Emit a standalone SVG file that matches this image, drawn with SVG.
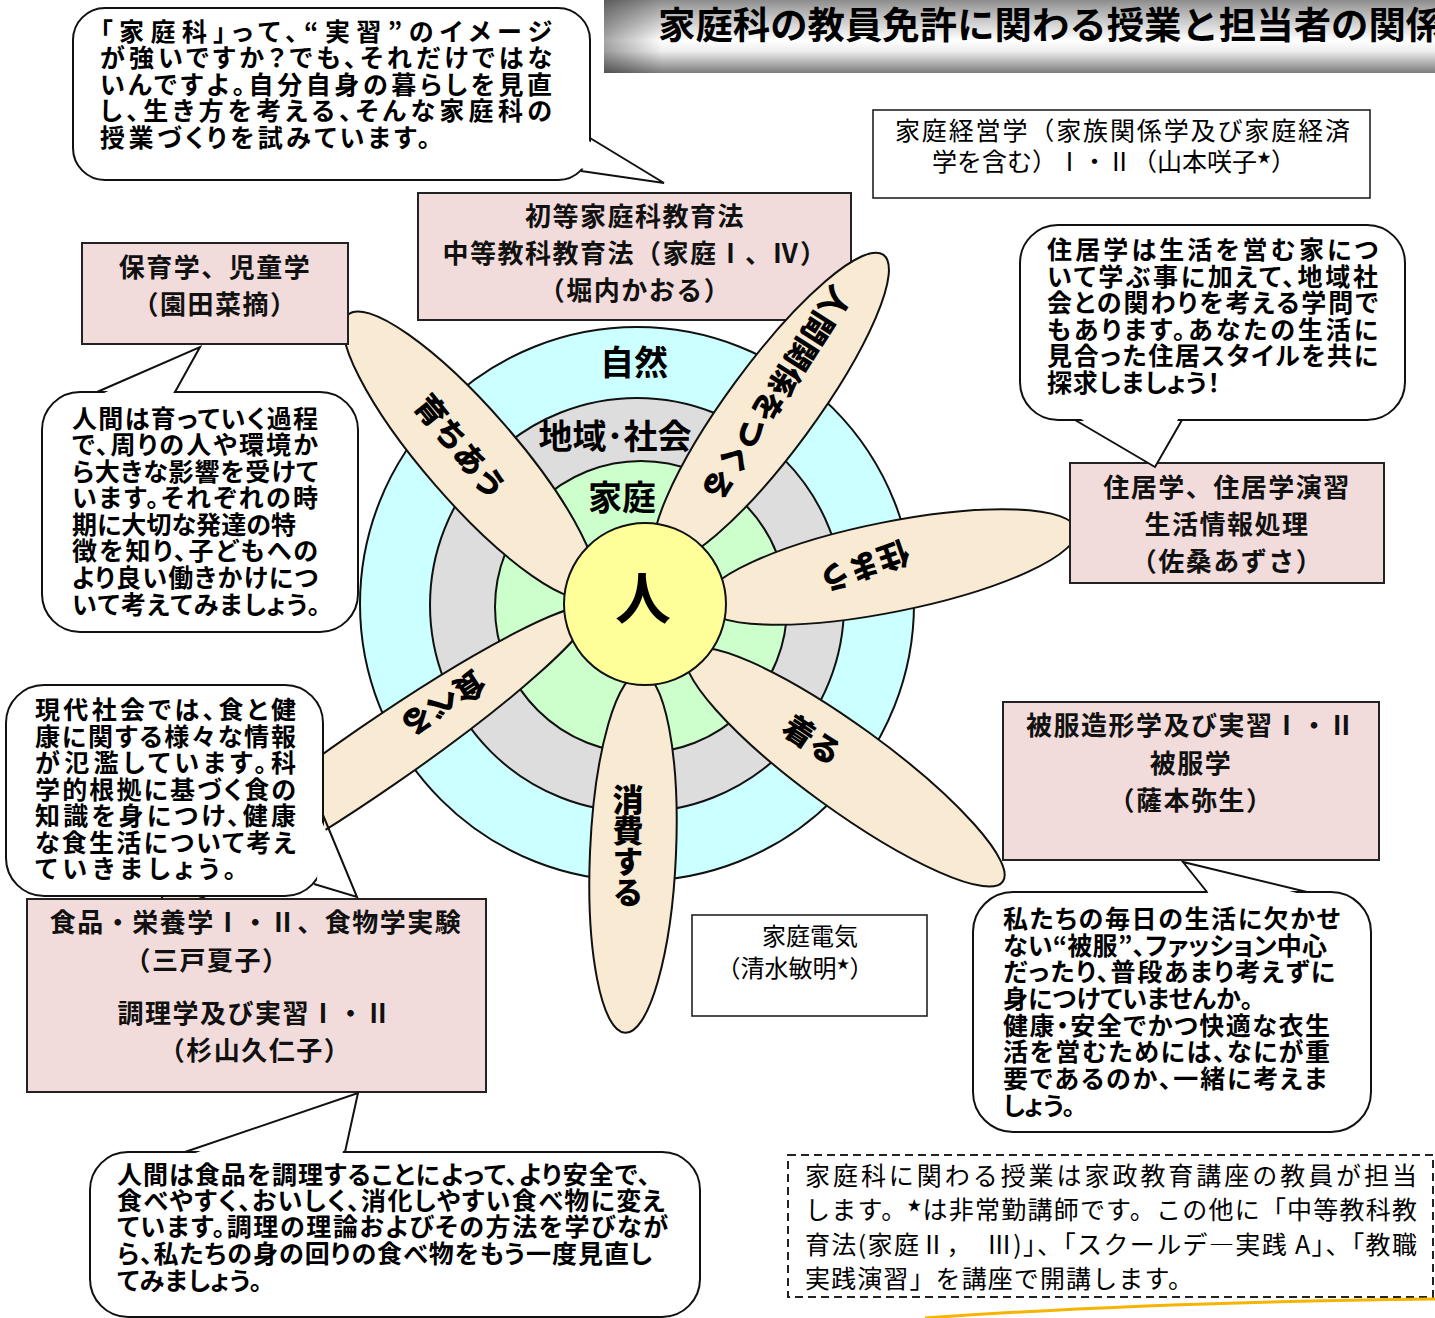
<svg xmlns="http://www.w3.org/2000/svg" width="1435" height="1318" viewBox="0 0 1435 1318">
<defs>
<linearGradient id="tg" x1="0" y1="0" x2="0" y2="1">
<stop offset="0" stop-color="#8c8c8c"/>
<stop offset="0.12" stop-color="#a9a9a9"/>
<stop offset="0.55" stop-color="#ffffff"/>
<stop offset="0.7" stop-color="#eeeeee"/>
<stop offset="1" stop-color="#7c7c7c"/>
</linearGradient>
<linearGradient id="tgl" x1="0" y1="0" x2="1" y2="0">
<stop offset="0" stop-color="#000" stop-opacity="0.35"/>
<stop offset="0.07" stop-color="#000" stop-opacity="0"/>
</linearGradient>
<style>
.f{font-family:"Noto Sans CJK JP","Noto Sans",sans-serif;}
.bold{font-weight:700;}
.reg{font-weight:400;}
.bt{font-family:"Noto Sans CJK JP","Noto Sans",sans-serif;font-weight:700;font-size:25px;font-feature-settings:"palt";fill:#000;}
.bx{font-family:"Noto Sans CJK JP","Noto Sans",sans-serif;font-weight:700;font-size:26px;letter-spacing:1.5px;text-anchor:middle;fill:#111;}
.pl{font-family:"Noto Sans CJK JP","Noto Sans",sans-serif;font-weight:900;font-size:31px;text-anchor:middle;fill:#000;}
.vt{writing-mode:vertical-rl;}
.ring{stroke:#111;stroke-width:2;}
.petal{fill:#F9EAD4;stroke:#111;stroke-width:2;}
.box{fill:#F2DCDB;stroke:#222;stroke-width:2;}
.wbox{fill:#fff;stroke:#222;stroke-width:1.6;}
.bub{fill:#fff;stroke:#111;stroke-width:2;}
.tailf{fill:#fff;stroke:none;}
.tail{fill:none;stroke:#111;stroke-width:2;stroke-linejoin:miter;}
</style>
</defs>
<rect width="1435" height="1318" fill="#fff"/>

<g id="title">
<rect x="604" y="0" width="831" height="73" fill="url(#tg)"/>
<rect x="604" y="0" width="831" height="73" fill="url(#tgl)"/>
<text x="658" y="39" class="f bold" font-size="37.4" fill="#000">家庭科の教員免許に関わる授業と担当者の関係</text>
</g>

<g id="box-shoto">
<rect x="418" y="193" width="433" height="127" class="box"/>
<text class="bx" x="635" y="226">初等家庭科教育法</text>
<text class="bx" x="635" y="263">中等教科教育法（家庭Ⅰ、Ⅳ）</text>
<text class="bx" x="635" y="300">（堀内かおる）</text>
</g>

<g id="rings">
<circle cx="637" cy="604" r="277" fill="#CCFFFF" class="ring"/>
<circle cx="637" cy="605" r="207" fill="#DDDDDD" class="ring"/>
<circle cx="641" cy="607" r="146" fill="#CCFFCC" class="ring"/>
<text x="634" y="375" class="f bold" font-size="34" text-anchor="middle">自然</text>
<text x="615" y="449" class="f bold" font-size="34" text-anchor="middle">地域･社会</text>
<text x="622" y="510" class="f bold" font-size="34" text-anchor="middle">家庭</text>
</g>

<g id="petals">
<g id="petal-sodachiau">
<ellipse cx="470" cy="455" rx="186" ry="46" transform="rotate(49 470 455)" class="petal"/>
<text class="pl" transform="translate(460 447) rotate(51)" y="11">育ちあう</text>
</g>
<g id="petal-ningenkankei">
<ellipse cx="771" cy="408" rx="190" ry="44" transform="rotate(-53.7 771 408)" class="petal"/>
<text class="pl" font-size="32" transform="translate(776 393) rotate(122.5)" y="11">人間関係をつくる</text>
</g>
<g id="petal-sumau">
<ellipse cx="890" cy="567" rx="190" ry="45" transform="rotate(-11.3 890 567)" class="petal"/>
<text class="pl" transform="translate(864 566) rotate(160.5)" y="11">住まう</text>
</g>
<g id="petal-kiru">
<ellipse cx="845" cy="767" rx="195" ry="42" transform="rotate(36 845 767)" class="petal"/>
<text class="pl" transform="translate(812 740) rotate(33.7)" y="11">着る</text>
</g>
<g id="petal-shohi">
<ellipse cx="633" cy="853" rx="43" ry="180" transform="rotate(2.5 633 853)" class="petal"/>
<text class="pl vt" x="628" y="846">消費する</text>
</g>
<g id="petal-taberu">
<ellipse cx="376" cy="757" rx="260" ry="33" transform="rotate(-34.6 376 757)" class="petal"/>
<text class="pl" transform="translate(443 703) rotate(147)" y="11">食べる</text>
</g>
</g>

<g id="center-hito">
<circle cx="645" cy="604" r="81" fill="#FFFF99" class="ring"/>
<text x="643" y="619" class="f bold" font-size="56" text-anchor="middle">人</text>
</g>

<g id="box-hoiku">
<rect x="82" y="243" width="266" height="101" class="box"/>
<text class="bx" x="215" y="277">保育学、児童学</text>
<text class="bx" x="215" y="314">（園田菜摘）</text>
</g>

<g id="box-jukyo">
<rect x="1070" y="463" width="314" height="120" class="box"/>
<text class="bx" x="1227" y="497">住居学、住居学演習</text>
<text class="bx" x="1227" y="534">生活情報処理</text>
<text class="bx" x="1227" y="571">（佐桑あずさ）</text>
</g>

<g id="box-hifuku">
<rect x="1003" y="702" width="376" height="158" class="box"/>
<text class="bx" x="1191" y="735">被服造形学及び実習Ⅰ・Ⅱ</text>
<text class="bx" x="1191" y="773">被服学</text>
<text class="bx" x="1191" y="810">（薩本弥生）</text>
</g>

<g id="box-shokuhin">
<rect x="27" y="899" width="459" height="193" class="box"/>
<text class="bx" x="256" y="932">食品・栄養学Ⅰ・Ⅱ、食物学実験</text>
<text class="bx" x="207" y="970">（三戸夏子）</text>
<text class="bx" x="255" y="1023">調理学及び実習Ⅰ・Ⅱ</text>
<text class="bx" x="255" y="1060">（杉山久仁子）</text>
</g>

<g id="box-keiei">
<rect x="873" y="110" width="497" height="88" class="wbox"/>
<text class="f reg" font-size="25" x="895" y="140" textLength="455">家庭経営学（家族関係学及び家庭経済</text>
<text class="f reg" font-size="25" x="1114" y="171" text-anchor="middle">学を含む）Ⅰ・Ⅱ（山本咲子<tspan font-size="14" dy="-9">★</tspan><tspan dy="9">）</tspan></text>
</g>

<g id="box-denki">
<rect x="692" y="915" width="235" height="101" class="wbox"/>
<text class="f reg" font-size="24" x="810" y="945" text-anchor="middle">家庭電気</text>
<text class="f reg" font-size="24" x="795" y="977" text-anchor="middle">（清水敏明<tspan font-size="13" dy="-9">★</tspan><tspan dy="9">）</tspan></text>
</g>

<g id="note">
<rect x="788" y="1155" width="645" height="142" fill="#fff" stroke="#222" stroke-width="2" stroke-dasharray="8 5"/>
<text class="f reg" font-size="25" x="805" y="1185" textLength="612">家庭科に関わる授業は家政教育講座の教員が担当</text>
<text class="f reg" font-size="25" x="805" y="1219" textLength="612">します。<tspan font-size="14" dy="-9">★</tspan><tspan dy="9">は非常勤講師です。この他に「中等教科教</tspan></text>
<text class="f reg" font-size="25" x="805" y="1254" textLength="612">育法(家庭Ⅱ，　Ⅲ)」、「スクールデ―実践 A」、「教職</text>
<text class="f reg" font-size="25" x="805" y="1288" textLength="388">実践演習」を講座で開講します。</text>
</g>

<g id="deco">
<path d="M 925 1318 Q 1150 1302 1435 1299" fill="none" stroke="#F5B400" stroke-width="3"/>
</g>

<g id="bubble-top">
<rect x="73" y="8" width="517" height="172" rx="32" class="bub"/>
<polygon points="587,140 664,183 579,168" class="tailf"/>
<polyline points="590,138 664,183 581,171" class="tail"/>
<text class="bt" x="100" y="41" textLength="452">「家庭科」って、“実習”のイメージ</text>
<text class="bt" x="100" y="67" textLength="452">が強いですか？でも、それだけではな</text>
<text class="bt" x="100" y="94" textLength="452">いんですよ。自分自身の暮らしを見直</text>
<text class="bt" x="100" y="120" textLength="452">し、生き方を考える、そんな家庭科の</text>
<text class="bt" x="100" y="147" textLength="330">授業づくりを試みています。</text>
</g>

<g id="bubble-jukyo">
<rect x="1020" y="225" width="385" height="195" rx="38" class="bub"/>
<polygon points="1078,417 1155,467 1179,417" class="tailf"/>
<polyline points="1075,420 1155,467 1182,420" class="tail"/>
<text class="bt" x="1047" y="259" textLength="331">住居学は生活を営む家につ</text>
<text class="bt" x="1047" y="286" textLength="331">いて学ぶ事に加えて、地域社</text>
<text class="bt" x="1047" y="312" textLength="331">会との関わりを考える学問で</text>
<text class="bt" x="1047" y="339" textLength="331">もあります。あなたの生活に</text>
<text class="bt" x="1047" y="365" textLength="331">見合った住居スタイルを共に</text>
<text class="bt" x="1047" y="392" textLength="173">探求しましょう！</text>
</g>

<g id="bubble-hoiku">
<rect x="42" y="392" width="316" height="240" rx="38" class="bub"/>
<polygon points="100,395 200,347 172,395" class="tailf"/>
<polyline points="97,392 200,347 175,392" class="tail"/>
<text class="bt" x="72" y="428" textLength="246">人間は育っていく過程</text>
<text class="bt" x="72" y="454" textLength="246">で、周りの人や環境か</text>
<text class="bt" x="72" y="481" textLength="246">ら大きな影響を受けて</text>
<text class="bt" x="72" y="507" textLength="246">います。それぞれの時</text>
<text class="bt" x="72" y="534" textLength="224">期に大切な発達の特</text>
<text class="bt" x="72" y="560" textLength="246">徴を知り、子どもへの</text>
<text class="bt" x="72" y="587" textLength="246">より良い働きかけにつ</text>
<text class="bt" x="72" y="614" textLength="248">いて考えてみましょう。</text>
</g>

<g id="bubble-shoku">
<rect x="6" y="685" width="317" height="211" rx="38" class="bub"/>
<polygon points="320,818 357,897 317,880" class="tailf"/>
<polyline points="323,815 357,897 314,884" class="tail"/>
<text class="bt" x="35" y="719" textLength="261">現代社会では、食と健</text>
<text class="bt" x="35" y="746" textLength="261">康に関する様々な情報</text>
<text class="bt" x="35" y="772" textLength="261">が氾濫しています。科</text>
<text class="bt" x="35" y="799" textLength="261">学的根拠に基づく食の</text>
<text class="bt" x="35" y="825" textLength="261">知識を身につけ、健康</text>
<text class="bt" x="35" y="852" textLength="261">な食生活について考え</text>
<text class="bt" x="35" y="878" textLength="201">ていきましょう。</text>
</g>

<g id="bubble-hifuku">
<rect x="973" y="892" width="398" height="240" rx="40" class="bub"/>
<polygon points="1210,895 1183,862 1304,895" class="tailf"/>
<polyline points="1207,892 1183,862 1307,892" class="tail"/>
<text class="bt" x="1003" y="928" textLength="337">私たちの毎日の生活に欠かせ</text>
<text class="bt" x="1003" y="955" textLength="324">ない“被服”、ファッション中心</text>
<text class="bt" x="1003" y="981" textLength="332">だったり、普段あまり考えずに</text>
<text class="bt" x="1003" y="1008" textLength="250">身につけていませんか。</text>
<text class="bt" x="1003" y="1035" textLength="327">健康・安全でかつ快適な衣生</text>
<text class="bt" x="1003" y="1061" textLength="327">活を営むためには、なにが重</text>
<text class="bt" x="1003" y="1088" textLength="324">要であるのか、一緒に考えま</text>
<text class="bt" x="1003" y="1115" textLength="72">しょう。</text>
</g>

<g id="bubble-chori">
<rect x="90" y="1152" width="610" height="165" rx="38" class="bub"/>
<polygon points="190,1155 358,1093 342,1155" class="tailf"/>
<polyline points="185,1152 358,1093 345,1152" class="tail"/>
<text class="bt" x="117" y="1184" textLength="533">人間は食品を調理することによって、より安全で、</text>
<text class="bt" x="117" y="1210" textLength="548">食べやすく、おいしく、消化しやすい食べ物に変え</text>
<text class="bt" x="117" y="1236" textLength="551">ています。調理の理論およびその方法を学びなが</text>
<text class="bt" x="117" y="1263" textLength="535">ら、私たちの身の回りの食べ物をもう一度見直し</text>
<text class="bt" x="117" y="1290" textLength="145">てみましょう。</text>
</g>

<g id="connectors"></g>
</svg>
